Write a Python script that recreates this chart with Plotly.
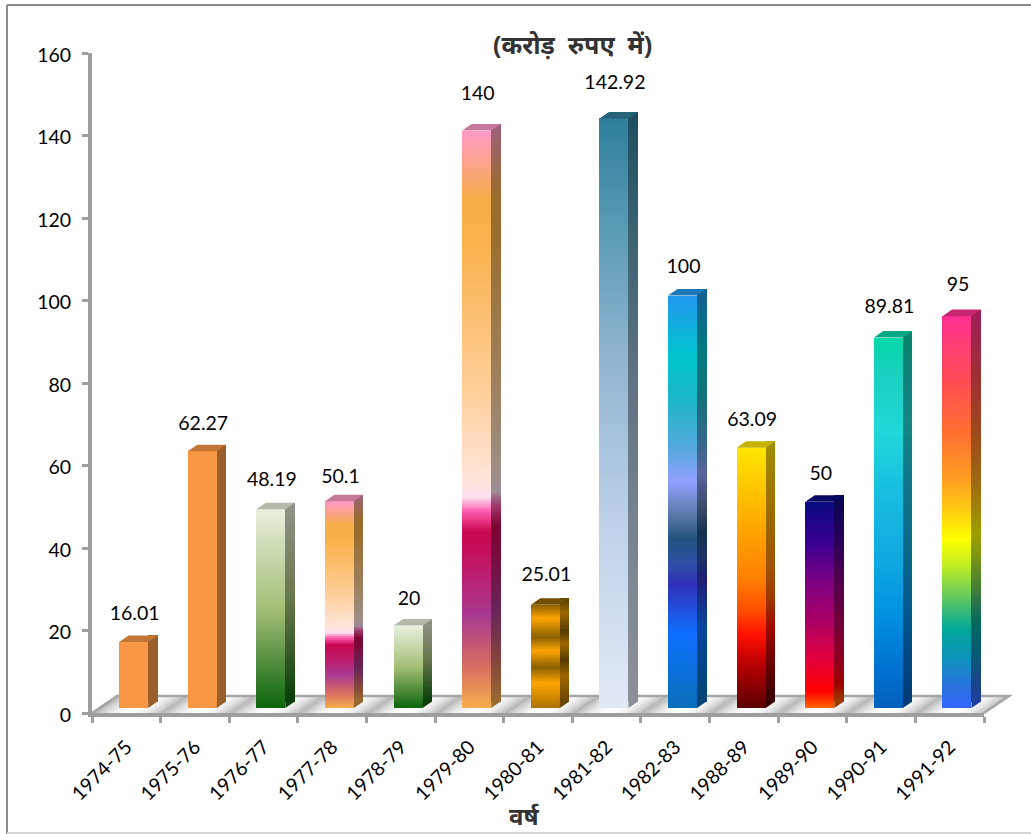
import plotly.graph_objects as go

categories = ["1974-75", "1975-76", "1976-77", "1977-78", "1978-79", "1979-80", "1980-81",
              "1981-82", "1982-83", "1988-89", "1989-90", "1990-91", "1991-92"]
values = [16.01, 62.27, 48.19, 50.1, 20, 140, 25.01, 142.92, 100, 63.09, 50, 89.81, 95]
y_ticks = [0, 20, 40, 60, 80, 100, 120, 140, 160]
title_text = "(करोड़  रुपए  में)"
x_title_text = "वर्ष"

ORANGE = [(0, "#F99745"), (1, "#F99745")]
GREEN = [(0, "#E8F0DE"), (.5, "#A4BE76"), (1, "#0B650B")]
PEACH = [(0, "#FF9AC8"), (.12, "#F8AE48"), (.2, "#F9B24E"), (.45, "#FFCF9A"), (.60, "#FFE4D8"),
         (.635, "#FBE2F0"), (.66, "#FF5AAE"), (.695, "#C8064E"), (.76, "#C01A6A"), (.84, "#A83A90"),
         (.93, "#D87060"), (1, "#F6AE4E")]
GOLD = [(0, "#8A6000"), (.13, "#FFA500"), (.31, "#8A6000"), (.44, "#FFA500"), (.6, "#8A6000"),
        (.75, "#FFA500"), (1, "#A87000")]
STEEL = [(0, "#2E7F9B"), (.2, "#5C9DB5"), (.4, "#8FB3D0"), (.7, "#C0D3EA"), (1, "#E2E9F5")]
OCEAN = [(0, "#2299EE"), (.15, "#00C4CC"), (.26, "#1FB5C8"), (.38, "#5AA8E0"), (.45, "#92A0FF"),
         (.53, "#5A7AAA"), (.59, "#22527F"), (.65, "#2E50A8"), (.70, "#3030B8"), (.82, "#0F70FF"),
         (.9, "#0A70E0"), (1, "#0A6FB8")]
FIRE = [(0, "#FFE600"), (.3, "#FFA800"), (.5, "#FF8000"), (.62, "#FF5000"), (.72, "#FF1000"),
        (.82, "#C00000"), (1, "#5A0000")]
NIGHT = [(0, "#0A0A80"), (.2, "#3A0090"), (.4, "#800080"), (.6, "#B00060"), (.75, "#E00040"),
         (.92, "#FF0000"), (1, "#FF6600")]
AQUA = [(0, "#05D8A8"), (.1, "#1AD0C0"), (.25, "#20D8D8"), (.4, "#18C0E0"), (.6, "#10A8E0"),
        (.75, "#0090E0"), (.9, "#0070D0"), (1, "#0060BB")]
RAINBOW = [(0, "#FF3090"), (.18, "#FF5050"), (.3, "#FF7030"), (.42, "#FFA020"), (.5, "#FFD010"),
           (.57, "#FFFF00"), (.63, "#C8F020"), (.72, "#60C860"), (.8, "#00A89A"), (.88, "#1090C0"),
           (.95, "#2A70E0"), (1, "#3366FF")]
gradients = [ORANGE, ORANGE, GREEN, PEACH, GREEN, PEACH, GOLD, STEEL, OCEAN, FIRE, NIGHT, AQUA, RAINBOW]
label_gaps = [20, 20, 22, 17, 19, 29, 22, 28, 21, 20, 20, 23, 23]

W, H = 1031, 834
L, R, T, B = 92, 984, 53, 713
STEP = (R - L) / 13
PPU = (B - T) / 160
LIFT = 5 / PPU
DEPTH_Y = 6.5 / PPU
FRONT_OFF = -7.2 / STEP
FRONT_W = 29 / STEP
SIDE_OFF = FRONT_OFF + FRONT_W
SIDE_W = 9.5 / STEP
FONT = "Lato, Carlito, sans-serif"
DEVA = "Noto Sans, Noto Sans Devanagari, sans-serif"
AXIS_GRAY = "#9E9E9E"


def rgb(h):
    return tuple(int(h[i:i + 2], 16) for i in (1, 3, 5))


def at(stops, t):
    for (a, ca), (b, cb) in zip(stops, stops[1:]):
        if t <= b:
            f = (t - a) / (b - a) if b > a else 0
            return tuple(x + (y - x) * f for x, y in zip(rgb(ca), rgb(cb)))
    return rgb(stops[-1][1])


def css(c, k=1.0):
    return "rgb(%d,%d,%d)" % tuple(round(v * k) for v in c)


fig = go.Figure()

for k, (cat, v, stops) in enumerate(zip(categories, values, gradients)):
    n = max(4, round(v * PPU / 2))
    seg = v / n
    cols = [at(stops, 1 - (i + .5) / n) for i in range(n)]
    front = [css(c) for c in cols]
    side = [css(c, .62) for c in cols]
    fig.add_bar(x=[cat] * n, y=[seg] * n, base=[LIFT + i * seg for i in range(n)],
                width=FRONT_W, offset=FRONT_OFF,
                marker=dict(color=front, line=dict(width=0)),
                showlegend=False, hoverinfo="skip")
    fig.add_bar(x=[cat] * n, y=[seg] * n, base=[LIFT + DEPTH_Y + i * seg for i in range(n)],
                width=SIDE_W, offset=SIDE_OFF,
                marker=dict(color=side, line=dict(width=0)),
                showlegend=False, hoverinfo="skip")
    # top face and lower side corner of the 3-D column
    xl, xr = k + FRONT_OFF, k + SIDE_OFF
    top = v + LIFT
    fig.add_scatter(x=[xl, xr, xr + SIDE_W, xl + SIDE_W, xl],
                    y=[top, top, top + DEPTH_Y, top + DEPTH_Y, top],
                    xaxis="x2", yaxis="y", mode="lines", fill="toself",
                    line=dict(width=0), fillcolor=css(cols[-1], .78),
                    showlegend=False, hoverinfo="skip")
    fig.add_scatter(x=[xr, xr + SIDE_W, xr, xr], y=[LIFT, LIFT + DEPTH_Y, LIFT + DEPTH_Y, LIFT],
                    xaxis="x2", yaxis="y", mode="lines", fill="toself",
                    line=dict(width=0), fillcolor=css(cols[0], .62),
                    showlegend=False, hoverinfo="skip")

fig.add_scatter(x=[k + FRONT_OFF + FRONT_W / 2 + 1 / STEP for k in range(13)],
                y=[v + LIFT + DEPTH_Y + g / PPU for v, g in zip(values, label_gaps)],
                xaxis="x2", yaxis="y", mode="text", text=[str(v) for v in values],
                textposition="middle center",
                textfont=dict(family=FONT, size=19.5, color="#000000"),
                showlegend=False, hoverinfo="skip")


def px(x):
    return (x - L) / (R - L)


def py(y):
    return (B - y) / (B - T)


def shear(x_front, y_px):
    return x_front + (B - y_px) * 25 / 17


shapes = []
FLOOR_BACK = 696
path = "M%f,%f L%f,%f L%f,%f L%f,%f Z" % (px(L), py(B), px(R), py(B), px(R + 25), py(FLOOR_BACK), px(L + 25), py(FLOOR_BACK))
shapes.append(dict(type="path", path=path, xref="paper", yref="paper", layer="below",
                   fillcolor="#F4F4F4", line=dict(width=0)))
bw = 4
xf = L
while xf < R:
    phase = ((xf - L) % STEP) / STEP
    tri = abs(phase * 2 - 1)
    g = round(255 - 75 * tri ** 2)
    col = "rgb(%d,%d,%d)" % (g, g, g)
    x1 = min(xf + bw + .5, R)
    path = "M%f,%f L%f,%f L%f,%f L%f,%f Z" % (px(xf), py(B), px(x1), py(B),
                                              px(shear(x1, FLOOR_BACK)), py(FLOOR_BACK),
                                              px(shear(xf, FLOOR_BACK)), py(FLOOR_BACK))
    shapes.append(dict(type="path", path=path, xref="paper", yref="paper", layer="below",
                       fillcolor=col, line=dict(width=0)))
    xf += bw
# floor rim
path = "M%f,%f L%f,%f L%f,%f L%f,%f" % (px(L), py(B), px(L + 25), py(FLOOR_BACK), px(R + 25), py(FLOOR_BACK), px(R), py(B))
shapes.append(dict(type="path", path=path, xref="paper", yref="paper", layer="below",
                   line=dict(color="#A6A6A6", width=2.5)))
# outer chart frame
for x0, y0, x1, y1, c in [(7, 5, 7, 834, "#8C8C8C"), (7, 5, 1031, 5, "#8C8C8C"), (7, 833, 1031, 833, "#D4D4D4")]:
    shapes.append(dict(type="line", x0=px(x0), y0=py(y0), x1=px(x1), y1=py(y1), xref="paper", yref="paper",
                       layer="below", line=dict(color=c, width=2)))

fig.update_layout(
    width=W, height=H, autosize=False,
    margin=dict(l=L, r=W - R, t=T, b=H - B, pad=0),
    paper_bgcolor="#FFFFFF", plot_bgcolor="rgba(0,0,0,0)",
    barmode="overlay", showlegend=False, bargap=0,
    font=dict(family=FONT, size=19.5, color="#000000"),
    xaxis=dict(type="category", categoryorder="array", categoryarray=categories,
               range=[-.5, 12.5], tickson="boundaries", tickangle=-45, ticks="outside", ticklen=6,
               tickwidth=2.5, tickcolor=AXIS_GRAY, showline=True, linecolor=AXIS_GRAY, linewidth=4,
               showgrid=False, zeroline=False, tickfont=dict(family=FONT, size=19.5),
               ticklabelstandoff=11, automargin=False),
    xaxis2=dict(overlaying="x", anchor="y", range=[-.5, 12.5], visible=False, showgrid=False, zeroline=False),
    yaxis=dict(range=[0, 160], tickvals=y_ticks, ticks="outside", ticklen=6, tickwidth=2.5, tickcolor=AXIS_GRAY,
               showline=True, linecolor=AXIS_GRAY, linewidth=4, showgrid=False, zeroline=False,
               tickfont=dict(family=FONT, size=19.5), ticklabelstandoff=7, ticklabelshift=2, automargin=False),
    shapes=shapes,
    annotations=[
        dict(text="<b>%s</b>" % title_text, xref="paper", yref="paper", x=px(572), y=py(44), xanchor="center",
             yanchor="middle", showarrow=False,
             font=dict(family=DEVA, size=25, color="#333333")),
        dict(text="<b>%s</b>" % x_title_text, xref="paper", yref="paper", x=px(524), y=py(815), xanchor="center",
             yanchor="middle", showarrow=False,
             font=dict(family=DEVA, size=24, color="#333333")),
    ],
)

fig.write_html("out.html", config={"displayModeBar": False}, post_script="document.body.style.margin='0';")
